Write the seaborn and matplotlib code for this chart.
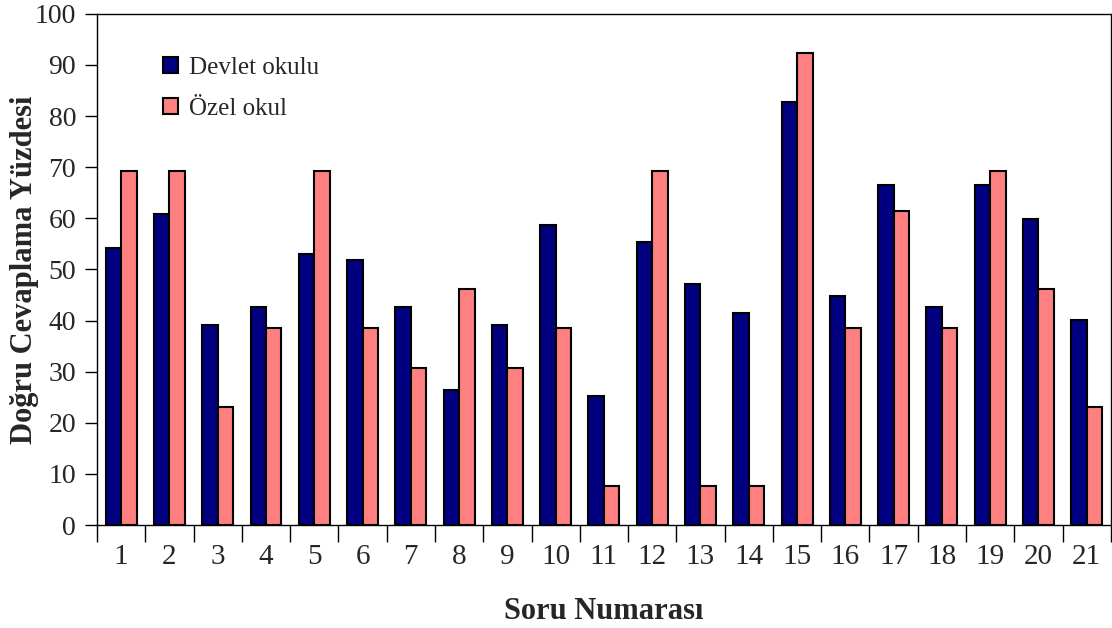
import numpy as np
import pandas as pd
import seaborn as sns
import matplotlib.pyplot as plt
from matplotlib.ticker import MultipleLocator, FixedLocator

# question numbers and percent of correct answers
sorular = [str(i) for i in range(1, 22)]
devlet = [54.2, 60.9, 39.1, 42.6, 53.0, 51.8, 42.6, 26.5, 39.1, 58.6, 25.3,
          55.3, 47.2, 41.4, 82.7, 44.8, 66.6, 42.6, 66.6, 59.8, 40.2]
ozel = [69.2, 69.2, 23.1, 38.5, 69.2, 38.5, 30.8, 46.2, 30.8, 38.5, 7.7,
        69.2, 7.7, 7.7, 92.3, 38.5, 61.5, 38.5, 69.2, 46.2, 23.1]
seriler = ["Devlet okulu", "Özel okul"]
renkler = {"Devlet okulu": "#000080", "Özel okul": "#FF8080"}

df = pd.DataFrame({
    "Soru": sorular * 2,
    "Yuzde": devlet + ozel,
    "Okul": [seriler[0]] * len(sorular) + [seriler[1]] * len(sorular),
})

sns.set_style("white")
plt.rcParams['font.family'] = ['Liberation Serif', 'DejaVu Serif']

fig = plt.figure(figsize=(11.12, 6.28), dpi=100)
ax = fig.add_axes([0.0872, 0.164, 0.9118, 0.814])

sns.barplot(data=df, x="Soru", y="Yuzde", hue="Okul", hue_order=seriler,
            palette=renkler, width=0.64, edgecolor="black", linewidth=1.5,
            saturation=1, ax=ax)

ax.set_xlim(-0.5, 20.5)
ax.set_ylim(0, 100)
ax.yaxis.set_major_locator(MultipleLocator(10))
ax.tick_params(axis="y", direction="out", length=9, width=1, left=True,
               labelsize=20, pad=6, color="black")
ax.tick_params(axis="x", which="major", length=0, labelsize=21, pad=14)
ax.xaxis.set_minor_locator(FixedLocator(np.arange(-0.5, 21, 1)))
ax.tick_params(axis="x", which="minor", direction="out", length=12, width=1,
               bottom=True, color="black")
for s in ax.spines.values():
    s.set_visible(True)
    s.set_color("black")
    s.set_linewidth(1)

ax.set_xlabel("Soru Numarası", fontsize=22, fontweight="bold", labelpad=19)
ax.set_ylabel("Doğru Cevaplama Yüzdesi", fontsize=22, fontweight="bold")
ax.yaxis.set_label_coords(-0.057, 0.5)

leg = ax.legend(loc="upper left", bbox_to_anchor=(0.043, 0.96), frameon=False,
                fontsize=18, handlelength=0.6, handleheight=0.6,
                handletextpad=0.45, labelspacing=0.75)
for h in leg.legend_handles:
    h.set_edgecolor("black")
    h.set_linewidth(1.5)

fig.savefig("out.png", dpi=100)
